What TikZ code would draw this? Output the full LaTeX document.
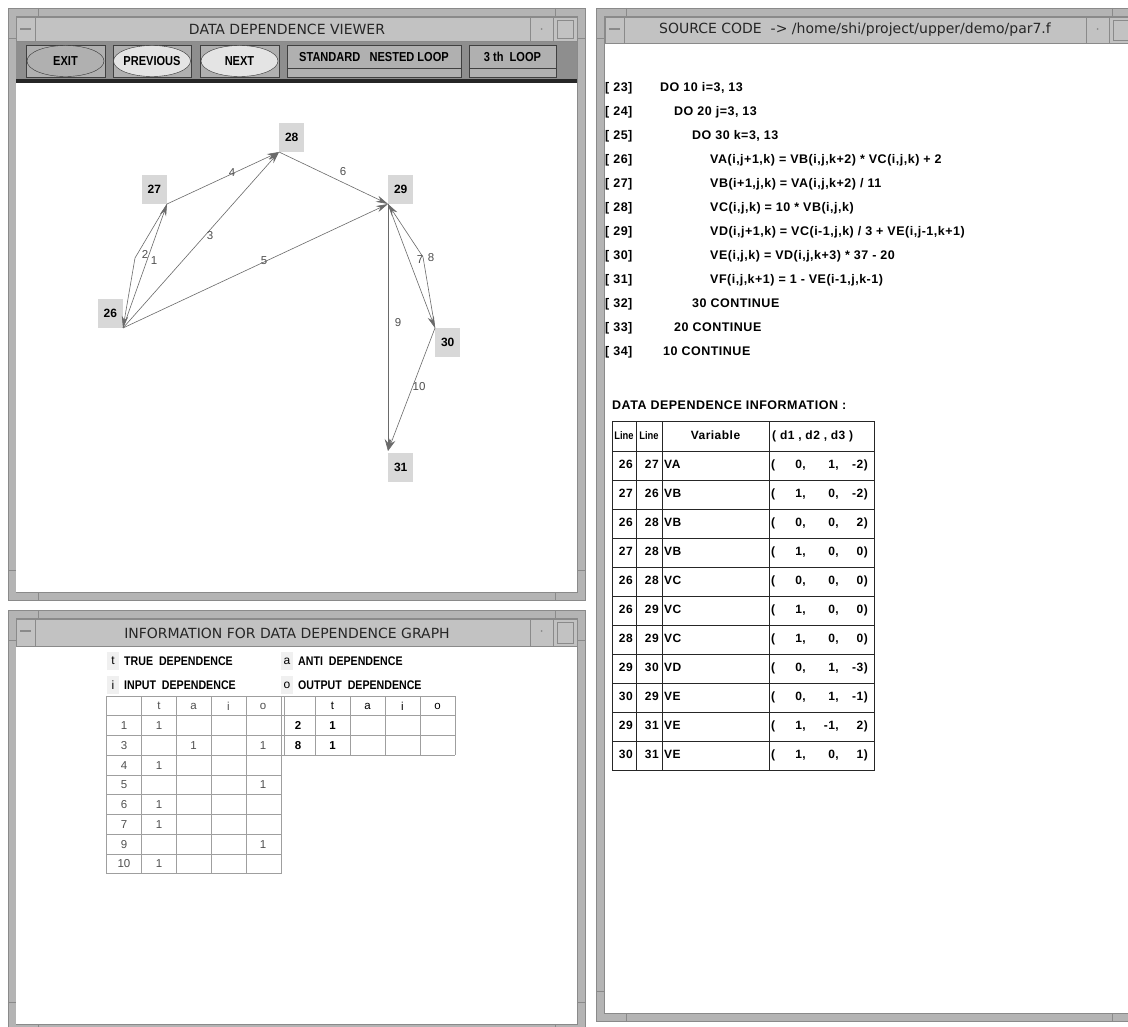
\documentclass[tikz,border=0pt]{standalone}
\usepackage{fontspec}
\setmainfont{Liberation Sans}
\newfontfamily\titlefont{DejaVu Sans}
\newfontfamily\narrowfont[FakeStretch=0.85]{Liberation Sans}
\newfontfamily\codefont[LetterSpace=4.0]{Liberation Sans}
\usetikzlibrary{arrows.meta,positioning}

\definecolor{framegray}{HTML}{B4B4B4}
\definecolor{titlegray}{HTML}{C2C2C2}
\definecolor{edgegray}{HTML}{8A8A8A}
\definecolor{toolgray}{HTML}{8E8E8E}
\definecolor{btngray}{HTML}{B0B0B0}
\definecolor{btnlight}{HTML}{E4E4E4}
\definecolor{boxgray}{HTML}{D8D8D8}
\definecolor{arcgray}{HTML}{6A6A6A}
\definecolor{txtgray}{HTML}{505050}

% window frame with resize corners: x0 y0 x1 y1
\newcommand{\motifwin}[4]{%
  \fill[framegray] (#1,#2) rectangle (#3,#4);
  \draw[edgegray] (#1,#2) rectangle (#3,#4);
  \draw[edgegray] (#1+8,#2+8) rectangle (#3-8,#4-8);
  \draw[edgegray] (#1+30,#2) -- (#1+30,#2+8) (#3-30,#2) -- (#3-30,#2+8)
    (#1+30,#4) -- (#1+30,#4-8) (#3-30,#4) -- (#3-30,#4-8)
    (#1,#2+30) -- (#1+8,#2+30) (#3,#2+30) -- (#3-8,#2+30)
    (#1,#4-30) -- (#1+8,#4-30) (#3,#4-30) -- (#3-8,#4-30);
}
% title bar with its buttons: x0 y0 x1 y1
\newcommand{\titlebar}[4]{%
  \fill[titlegray] (#1,#2) rectangle (#3,#4);
  \draw[edgegray] (#1,#2) rectangle (#3,#4);
  \draw[edgegray] (#1+19,#2) -- (#1+19,#4);
  \draw[edgegray, line width=2pt] (#1+4,#2+12) -- (#1+15,#2+12);
  \draw[edgegray] (#3-47,#2) -- (#3-47,#4) (#3-24,#2) -- (#3-24,#4);
  \fill[edgegray] (#3-35.5,#2+12) circle (1);
  \draw[edgegray] (#3-20,#2+3) rectangle (#3-4,#4-3);
}

\tikzset{
  wintitle/.style={font=\titlefont\fontsize{14}{16}\selectfont, text=black!85, inner sep=0pt},
  tbbox/.style={draw=black!75, fill=btngray, line width=0.6pt},
  tbtxt/.style={inner sep=0pt, font=\narrowfont\bfseries\fontsize{13}{15}\selectfont},
  vtx/.style={fill=boxgray, minimum width=25pt, minimum height=29pt, inner sep=0pt,
    font=\bfseries\fontsize{12}{14}\selectfont},
  dep/.style={draw=arcgray, line width=0.6pt, -{Stealth[length=12pt,width=6.5pt]}},
  elab/.style={text=txtgray, inner sep=0pt, font=\fontsize{11.5}{13}\selectfont},
  legtag/.style={fill=gray!12, minimum width=12pt, minimum height=18pt, inner sep=0pt,
    font=\fontsize{12}{14}\selectfont},
  legtxt/.style={anchor=west, inner sep=0pt, font=\narrowfont\bfseries\fontsize{12.5}{14}\selectfont},
  tabline/.style={draw=gray!75, line width=0.6pt},
  tabtxt/.style={text=txtgray, inner sep=0pt, font=\fontsize{11.5}{13}\selectfont},
  srcline/.style={anchor=west, inner sep=0pt, text height=9pt, text depth=2.5pt,
    font=\codefont\bfseries\fontsize{12.5}{14}\selectfont},
  celltxt/.style={inner sep=0pt, text height=9pt, text depth=2.5pt,
    font=\codefont\bfseries\fontsize{12}{14}\selectfont},
}

\begin{document}
\begin{tikzpicture}[x=1pt,y=-1pt]
  \useasboundingbox (0,0) rectangle (1128,1027);
  \clip (0,0) rectangle (1128,1027);
  \fill[white] (0,0) rectangle (1128,1027);

  % ---------------- viewer window
  \motifwin{8}{8}{585}{600}
  \titlebar{16}{17}{577}{41}
  \node[wintitle] (vtitle) at (287,29) {DATA DEPENDENCE VIEWER};
  % tool bar
  \fill[toolgray] (16,42) rectangle (577,79);
  \fill[black!85] (16,79) rectangle (577,83);
  \fill[white] (16,83) rectangle (577,592);
  \draw[tbbox] (26,45) rectangle (105,77);
  \draw[black!80, fill=btngray] (65.5,61) ellipse [x radius=38.5, y radius=15.5];
  \node[tbtxt] (exit) at (65.5,61) {EXIT};
  \draw[tbbox] (113,45) rectangle (191,77);
  \draw[black!80, fill=btnlight] (152,61) ellipse [x radius=38.5, y radius=15.5];
  \node[tbtxt] (prev) at (152,61) {PREVIOUS};
  \draw[tbbox] (200,45) rectangle (279,77);
  \draw[black!80, fill=btnlight] (239.5,61) ellipse [x radius=38.5, y radius=15.5];
  \node[tbtxt] (next) at (239.5,61) {NEXT};
  \draw[tbbox] (287,45) rectangle (461,77);
  \draw[black!75] (287,68) -- (461,68);
  \node[tbtxt] (mode) at (374,57) {STANDARD\ \ \ NESTED LOOP};
  \draw[tbbox] (469,45) rectangle (556,77);
  \draw[black!75] (469,68) -- (556,68);
  \node[tbtxt] (loopno) at (512.5,57) {3 th\ \ LOOP};

  % graph points
  \coordinate (v26) at (123,328);
  \coordinate (v27) at (167,204);
  \coordinate (v28) at (279,152);
  \coordinate (v29) at (388,204);
  \coordinate (v30) at (435,328);
  \coordinate (v31) at (388,451);
  \coordinate (b2) at (135,258);
  \coordinate (b8) at (423,257);
  \node[vtx, anchor=south east] (n26) at (v26) {26};
  \node[vtx, anchor=south east] (n27) at (v27) {27};
  \node[vtx, anchor=south west] (n28) at (v28) {28};
  \node[vtx, anchor=south west] (n29) at (v29) {29};
  \node[vtx, anchor=north west] (n30) at (v30) {30};
  \node[vtx, anchor=north west] (n31) at ([yshift=-2pt]v31) {31};
  % dependences
  \draw[dep] (v26) -- (v27);
  \draw[dep] (v27) -- (b2) -- (v26);
  \draw[dep] (v26) -- (v28);
  \draw[dep] (v27) -- (v28);
  \draw[dep] (v26) -- (v29);
  \draw[dep] (v28) -- (v29);
  \draw[dep] (v29) -- (v30);
  \draw[dep] (v30) -- (b8) -- (v29);
  \draw[dep] (v29) -- (v31);
  \draw[dep] (v30) -- (v31);
  \node[elab] (l1) at (154,261) {1};
  \node[elab] (l2) at (145,254) {2};
  \node[elab] (l3) at (210,236) {3};
  \node[elab] (l4) at (232,173) {4};
  \node[elab] (l5) at (264,261) {5};
  \node[elab] (l6) at (343,172) {6};
  \node[elab] (l7) at (420,260) {7};
  \node[elab] (l8) at (431,258) {8};
  \node[elab] (l9) at (398,323) {9};
  \node[elab] (l10) at (419,387) {10};

  % ---------------- information window
  \motifwin{8}{610}{585}{1032}
  \titlebar{16}{619}{577}{646}
  \node[wintitle] (ititle) at (287,633) {INFORMATION FOR DATA DEPENDENCE GRAPH};
  \fill[white] (16,647) rectangle (577,1024);
  \node[legtag] (kt) at (113,661) {t};
  \node[legtxt] (kttxt) at (124,661) {TRUE\ \ DEPENDENCE};
  \node[legtag] (ka) at (287,661) {a};
  \node[legtxt] (katxt) at (298,661) {ANTI\ \ DEPENDENCE};
  \node[legtag] (ki) at (113,685) {i};
  \node[legtxt] (kitxt) at (124,685) {INPUT\ \ DEPENDENCE};
  \node[legtag] (ko) at (287,685) {o};
  \node[legtxt] (kotxt) at (298,685) {OUTPUT\ \ DEPENDENCE};
  % edge table
  \foreach \x in {106,141,176,211,246,281}
    \draw[tabline] (\x,696) -- (\x,874);
  \foreach \k in {0,...,9}
    \draw[tabline] (106,696+19.75*\k) -- (281,696+19.75*\k);
  \foreach \c/\x in {t/159,a/193.5,i/228.5,o/263}
    \node[tabtxt] (h\c) at (\x,706) {\c};
  \foreach \r [count=\k] in {1,3,4,5,6,7,9,10}
    \node[tabtxt] (e\r) at (124,706+19.75*\k) {\r};
  \foreach \r/\k in {1/1,4/3,6/5,7/6,10/8}
    \node[tabtxt] (t\r) at (159,706+19.75*\k) {1};
  \node[tabtxt] (a3) at (193.5,745.5) {1};
  \foreach \r/\k in {3/2,5/4,9/7}
    \node[tabtxt] (o\r) at (263,706+19.75*\k) {1};
  % back edge table
  \draw[tabline] (284,696) -- (284,755.25);
  \foreach \x in {315,350,385,420,455}
    \draw[tabline] (\x,696) -- (\x,755.25);
  \foreach \k in {0,...,3}
    \draw[tabline] (281,696+19.75*\k) -- (455,696+19.75*\k);
  \foreach \c/\x in {t/332.5,a/367.5,i/402.5,o/437.5}
    \node[tabtxt, text=black] (g\c) at (\x,706) {\c};
  \node[tabtxt, text=black] (e2b) at (298,725.75) {\bfseries 2};
  \node[tabtxt, text=black] (t2b) at (332.5,725.75) {\bfseries 1};
  \node[tabtxt, text=black] (e8b) at (298,745.5) {\bfseries 8};
  \node[tabtxt, text=black] (t8b) at (332.5,745.5) {\bfseries 1};

  % ---------------- source window
  \motifwin{596}{8}{1142}{1021}
  \titlebar{605}{17}{1133}{43}
  \node[wintitle] (stitle) at (855,30) {SOURCE CODE\ \ -> /home/shi/project/upper/demo/par7.f};
  \fill[white] (605,44) rectangle (1134,1013);
  \node[srcline] (s23) at (605,88) {[ 23]};  \node[srcline] (c23) at (660,88) {DO 10 i=3, 13};
  \node[srcline] (s24) at (605,112) {[ 24]}; \node[srcline] (c24) at (674,112) {DO 20 j=3, 13};
  \node[srcline] (s25) at (605,136) {[ 25]}; \node[srcline] (c25) at (692,136) {DO 30 k=3, 13};
  \node[srcline] (s26) at (605,160) {[ 26]}; \node[srcline] (c26) at (710,160) {VA(i,j+1,k) = VB(i,j,k+2) * VC(i,j,k) + 2};
  \node[srcline] (s27) at (605,184) {[ 27]}; \node[srcline] (c27) at (710,184) {VB(i+1,j,k) = VA(i,j,k+2) / 11};
  \node[srcline] (s28) at (605,208) {[ 28]}; \node[srcline] (c28) at (710,208) {VC(i,j,k) = 10 * VB(i,j,k)};
  \node[srcline] (s29) at (605,232) {[ 29]}; \node[srcline] (c29) at (710,232) {VD(i,j+1,k) = VC(i-1,j,k) / 3 + VE(i,j-1,k+1)};
  \node[srcline] (s30) at (605,256) {[ 30]}; \node[srcline] (c30) at (710,256) {VE(i,j,k) = VD(i,j,k+3) * 37 - 20};
  \node[srcline] (s31) at (605,280) {[ 31]}; \node[srcline] (c31) at (710,280) {VF(i,j,k+1) = 1 - VE(i-1,j,k-1)};
  \node[srcline] (s32) at (605,304) {[ 32]}; \node[srcline] (c32) at (692,304) {30 CONTINUE};
  \node[srcline] (s33) at (605,328) {[ 33]}; \node[srcline] (c33) at (674,328) {20 CONTINUE};
  \node[srcline] (s34) at (605,352) {[ 34]}; \node[srcline] (c34) at (663,352) {10 CONTINUE};

  % dependence table
  \node[srcline] (dtitle) at (612,406) {DATA DEPENDENCE INFORMATION :};
  \draw[black!85, line width=0.8pt] (612,421) rectangle (874,770);
  \foreach \x in {636,662,769}
    \draw[black!85, line width=0.8pt] (\x,421) -- (\x,770);
  \foreach \k in {0,...,10}
    \draw[black!85, line width=0.8pt] (612,451+29*\k) -- (874,451+29*\k);
  \node[celltxt] (hl1) at (624,436) {\narrowfont\bfseries\fontsize{11}{12}\selectfont Line};
  \node[celltxt] (hl2) at (649,436) {\narrowfont\bfseries\fontsize{11}{12}\selectfont Line};
  \node[celltxt] (hvar) at (715.5,436) {Variable};
  \node[celltxt, anchor=west] (hd) at (772,436) {( d1 , d2 , d3 )};
  \foreach \a/\b/\v/\p/\q/\s [count=\k from 0] in
      {26/27/VA/0/1/-2, 27/26/VB/1/0/-2, 26/28/VB/0/0/2, 27/28/VB/1/0/0,
       26/28/VC/0/0/0, 26/29/VC/1/0/0, 28/29/VC/1/0/0, 29/30/VD/0/1/-3,
       30/29/VE/0/1/-1, 29/31/VE/1/-1/2, 30/31/VE/1/0/1} {
    \node[celltxt, anchor=east] (ra\k) at (633,465.5+29*\k) {\a};
    \node[celltxt, anchor=east] (rb\k) at (659,465.5+29*\k) {\b};
    \node[celltxt, anchor=west] (rv\k) at (664,465.5+29*\k) {\v};
    \node[celltxt, anchor=west] (rp\k) at (771,465.5+29*\k) {(};
    \node[celltxt, anchor=east] (d1\k) at (806,465.5+29*\k) {\p,};
    \node[celltxt, anchor=east] (d2\k) at (839,465.5+29*\k) {\q,};
    \node[celltxt, anchor=east] (d3\k) at (868,465.5+29*\k) {\s)};
  }
\end{tikzpicture}
\end{document}
